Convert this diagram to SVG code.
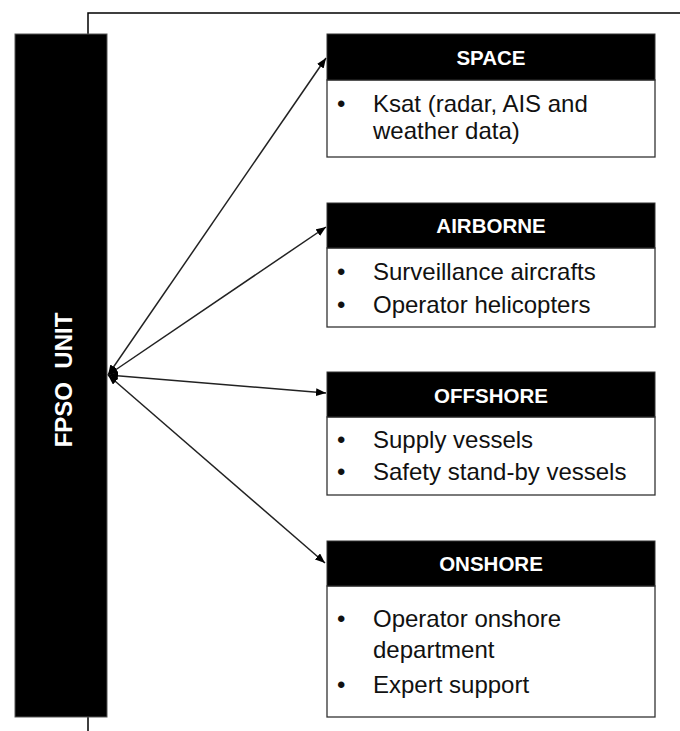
<svg xmlns="http://www.w3.org/2000/svg" width="680" height="731" viewBox="0 0 680 731">
  <defs>
    <marker id="arrow" viewBox="0 0 10 8" refX="10" refY="4" markerWidth="10" markerHeight="8" markerUnits="userSpaceOnUse" orient="auto-start-reverse">
      <path d="M0,0 L10,4 L0,8 Z" fill="#000"/>
    </marker>
  </defs>
  <style>
    .frame { fill: none; stroke: #000; stroke-width: 1.5; }
    .hub { fill: #000; stroke: #555; stroke-width: 1; }
    .head { fill: #000; stroke: #333; stroke-width: 1; }
    .body { fill: #fff; stroke: #333; stroke-width: 1.3; }
    .title { font-family: "Liberation Sans", Arial, sans-serif; font-weight: bold; font-size: 20.5px; fill: #fff; text-anchor: middle; }
    .item { font-family: "Liberation Sans", Arial, sans-serif; font-size: 24px; fill: #111; }
    .hubtext { font-family: "Liberation Sans", Arial, sans-serif; font-weight: bold; font-size: 24px; fill: #fff; text-anchor: middle; }
    .link { stroke: #222; stroke-width: 1.5; fill: none; marker-start: url(#arrow); marker-end: url(#arrow); }
  </style>

  <rect x="0" y="0" width="680" height="731" fill="#fff"/>

  <!-- outer frame, mostly hidden behind the FPSO bar -->
  <path class="frame" d="M88,731 V13 H681"/>

  <!-- FPSO unit bar -->
  <g id="fpso">
    <rect class="hub" x="15" y="34" width="92" height="683"/>
    <text class="hubtext" transform="translate(72,380) rotate(-90)" xml:space="preserve">FPSO  UNIT</text>
  </g>

  <!-- connectors -->
  <g id="connectors">
    <line class="link" x1="108" y1="375" x2="326" y2="58"/>
    <line class="link" x1="108" y1="375" x2="326" y2="227"/>
    <line class="link" x1="108" y1="375" x2="326" y2="393"/>
    <line class="link" x1="108" y1="375" x2="325" y2="563"/>
  </g>

  <g id="space">
    <rect class="body" x="327" y="80" width="328" height="77"/>
    <rect class="head" x="327" y="34" width="328" height="46"/>
    <text class="title" x="491" y="65">SPACE</text>
    <text class="item" x="337" y="112">•</text>
    <text class="item" x="373" y="112">Ksat (radar, AIS and</text>
    <text class="item" x="373" y="139">weather data)</text>
  </g>

  <g id="airborne">
    <rect class="body" x="327" y="248" width="328" height="79"/>
    <rect class="head" x="327" y="203" width="328" height="45"/>
    <text class="title" x="491" y="233">AIRBORNE</text>
    <text class="item" x="337" y="280">•</text>
    <text class="item" x="373" y="280">Surveillance aircrafts</text>
    <text class="item" x="337" y="313">•</text>
    <text class="item" x="373" y="313">Operator helicopters</text>
  </g>

  <g id="offshore">
    <rect class="body" x="327" y="417" width="328" height="78"/>
    <rect class="head" x="327" y="372" width="328" height="45"/>
    <text class="title" x="491" y="403">OFFSHORE</text>
    <text class="item" x="337" y="448">•</text>
    <text class="item" x="373" y="448">Supply vessels</text>
    <text class="item" x="337" y="480">•</text>
    <text class="item" x="373" y="480">Safety stand-by vessels</text>
  </g>

  <g id="onshore">
    <rect class="body" x="327" y="586" width="328" height="131"/>
    <rect class="head" x="327" y="541" width="328" height="45"/>
    <text class="title" x="491" y="571">ONSHORE</text>
    <text class="item" x="337" y="627">•</text>
    <text class="item" x="373" y="627">Operator onshore</text>
    <text class="item" x="373" y="658">department</text>
    <text class="item" x="337" y="693">•</text>
    <text class="item" x="373" y="693">Expert support</text>
  </g>
</svg>
